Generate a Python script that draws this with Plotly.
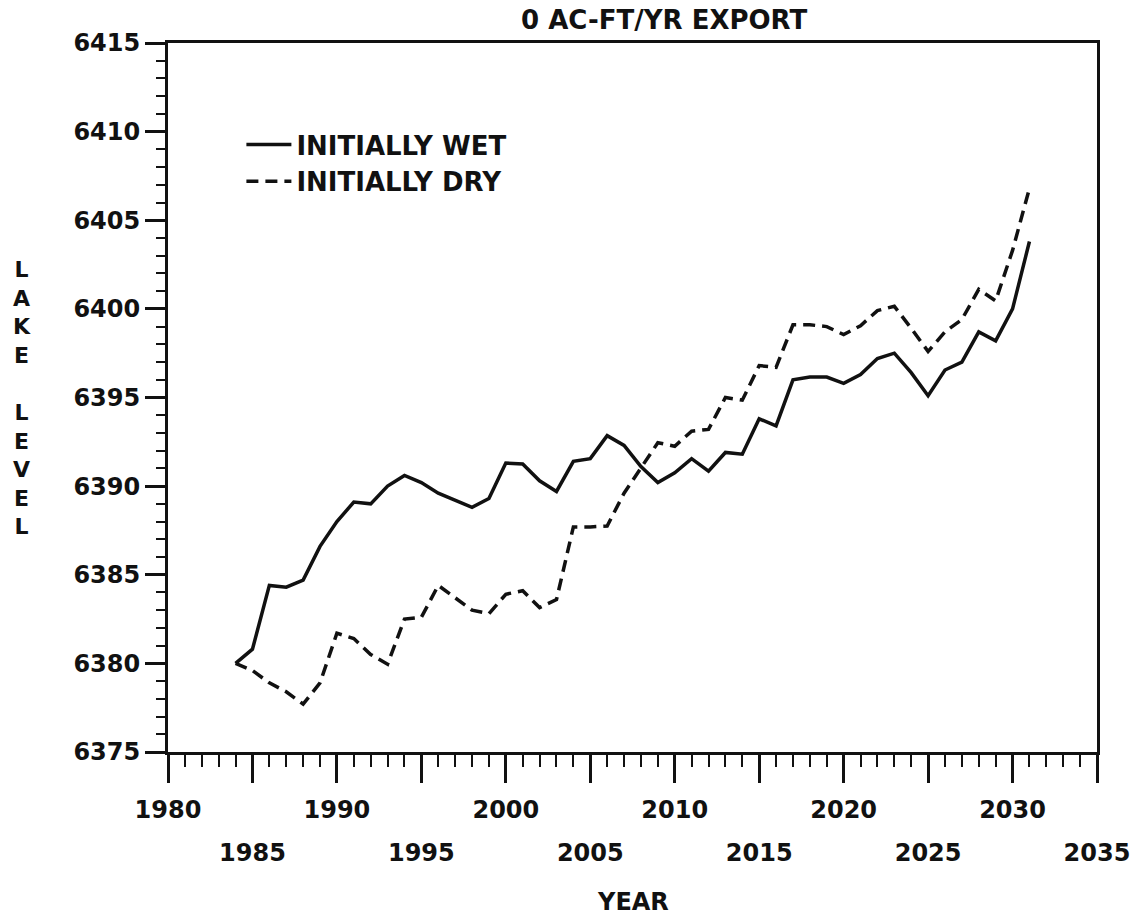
"""Lake level projection, 0 AC-FT/YR export: initially wet vs initially dry."""

import plotly.graph_objects as go

# Data
years = list(range(1984, 2032))

wet_level = [
    6380.0, 6380.8, 6384.4, 6384.3, 6384.7, 6386.6, 6388.0, 6389.1,
    6389.0, 6390.0, 6390.6, 6390.2, 6389.6, 6389.2, 6388.8, 6389.3,
    6391.3, 6391.25, 6390.3, 6389.7, 6391.4, 6391.55, 6392.85, 6392.3,
    6391.1, 6390.2, 6390.75, 6391.55, 6390.85, 6391.9, 6391.8, 6393.8,
    6393.4, 6396.0, 6396.15, 6396.15, 6395.8, 6396.3, 6397.2, 6397.5,
    6396.4, 6395.1, 6396.55, 6397.0, 6398.7, 6398.2, 6400.0, 6403.8,
]

dry_level = [
    6380.0, 6379.6, 6378.9, 6378.4, 6377.7, 6378.9, 6381.7, 6381.4,
    6380.5, 6379.95, 6382.5, 6382.6, 6384.4, 6383.7, 6383.0, 6382.8,
    6383.9, 6384.1, 6383.15, 6383.6, 6387.7, 6387.7, 6387.75, 6389.6,
    6391.0, 6392.45, 6392.25, 6393.1, 6393.2, 6395.0, 6394.85, 6396.8,
    6396.7, 6399.1, 6399.1, 6399.0, 6398.55, 6399.05, 6399.9, 6400.15,
    6398.9, 6397.6, 6398.7, 6399.4, 6401.1, 6400.45, 6403.3, 6406.8,
]

# Axis ticks
x_ticks_upper = [1980, 1990, 2000, 2010, 2020, 2030]
x_ticks_lower = [1985, 1995, 2005, 2015, 2025, 2035]
y_ticks = [6375, 6380, 6385, 6390, 6395, 6400, 6405, 6410, 6415]

_INK = "#111111"
_FONT = "DejaVu Sans"

fig = go.Figure()

fig.add_trace(
    go.Scatter(
        x=years,
        y=wet_level,
        mode="lines",
        name="INITIALLY WET",
        line=dict(color=_INK, width=3.5),
    )
)

# dashed series sits on the overlay x-axis (same range) that carries the lower label row
fig.add_trace(
    go.Scatter(
        x=years,
        y=dry_level,
        mode="lines",
        name="INITIALLY DRY",
        xaxis="x2",
        line=dict(color=_INK, width=3.5, dash="12px,7px"),
    )
)

all_x_ticks = sorted(x_ticks_upper + x_ticks_lower)
upper_text = [str(v) if v in x_ticks_upper else "" for v in all_x_ticks]

tick_font = dict(family=_FONT, size=24, color=_INK, weight="bold")

fig.update_layout(
    width=1145,
    height=915,
    margin=dict(l=168, r=48, t=43, b=163),
    paper_bgcolor="white",
    plot_bgcolor="white",
    title=dict(
        text="0 AC-FT/YR EXPORT",
        x=0.58,
        xanchor="center",
        y=0.978,
        yanchor="middle",
        font=dict(family=_FONT, size=26, color=_INK, weight="bold"),
    ),
    xaxis=dict(
        range=[1980, 2035],
        tickmode="array",
        tickvals=all_x_ticks,
        ticktext=upper_text,
        ticks="outside",
        ticklen=28,
        tickwidth=2.5,
        tickcolor=_INK,
        ticklabelstandoff=6,
        minor=dict(dtick=1, ticks="outside", ticklen=12, tickwidth=2, tickcolor=_INK),
        showline=True,
        linecolor=_INK,
        linewidth=3,
        mirror=True,
        showgrid=False,
        zeroline=False,
        tickfont=tick_font,
    ),
    xaxis2=dict(
        range=[1980, 2035],
        overlaying="x",
        anchor="y",
        side="bottom",
        tickmode="array",
        tickvals=x_ticks_lower,
        ticktext=[str(v) for v in x_ticks_lower],
        ticks="",
        ticklabelstandoff=84,
        showline=False,
        showgrid=False,
        zeroline=False,
        tickfont=tick_font,
    ),
    yaxis=dict(
        range=[6375, 6415],
        tickmode="array",
        tickvals=y_ticks,
        ticks="outside",
        ticklen=20,
        tickwidth=2.5,
        tickcolor=_INK,
        minor=dict(dtick=1, ticks="outside", ticklen=9, tickwidth=2, tickcolor=_INK),
        showline=True,
        linecolor=_INK,
        linewidth=3,
        mirror=True,
        showgrid=False,
        zeroline=False,
        tickfont=tick_font,
    ),
    showlegend=True,
    legend=dict(
        x=0.079,
        y=0.89,
        xanchor="left",
        yanchor="top",
        bgcolor="rgba(0,0,0,0)",
        font=dict(family=_FONT, size=26, color=_INK, weight="bold"),
        itemwidth=45,
        tracegroupgap=0,
    ),
)

# axis titles, written the way the plotter lettered them
fig.add_annotation(
    x=0.5,
    y=-0.212,
    xref="paper",
    yref="paper",
    text="YEAR",
    showarrow=False,
    font=dict(family=_FONT, size=24, color=_INK, weight="bold"),
    yanchor="middle",
)
fig.add_annotation(
    x=-0.157,
    y=0.5,
    xref="paper",
    yref="paper",
    text="<br>".join(list("LAKE") + [" "] + list("LEVEL")),
    showarrow=False,
    font=dict(family=_FONT, size=22, color=_INK, weight="bold"),
    xanchor="center",
    yanchor="middle",
)

fig.write_html(
    "out.html",
    config={"displayModeBar": False},
    post_script="document.body.style.margin='0';",
)
